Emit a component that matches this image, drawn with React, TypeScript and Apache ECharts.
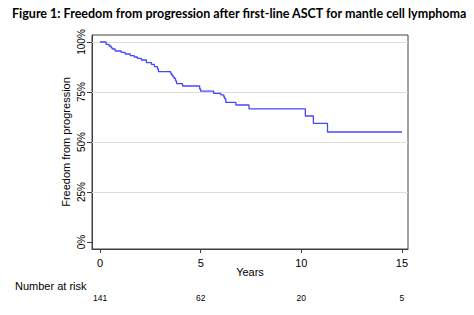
import React, { useEffect, useRef } from "react";
import * as echarts from "echarts";

const titleText = "Figure 1: Freedom from progression after first-line ASCT for mantle cell lymphoma";
const yAxisTitle = "Freedom from progression";
const xAxisTitle = "Years";
const riskTitle = "Number at risk";

// Kaplan-Meier steps: [years, survival %] — value after the event at that time
const kmTimes = [0, 0.3, 0.45, 0.55, 0.6, 0.75, 1.05, 1.25, 1.5, 1.7, 1.85, 2.05, 2.3, 2.55, 2.7, 2.85, 2.9, 3.5, 3.55, 3.62, 3.68, 3.75, 3.8, 4.1, 4.95, 5.0, 5.65, 6.0, 6.15, 6.2, 6.25, 6.75, 7.4, 10.2, 10.6, 11.3, 15];
const kmSurvival = [100, 98.8, 98.0, 97.2, 96.5, 95.5, 94.8, 94.0, 93.2, 92.5, 91.8, 91.0, 89.7, 88.8, 87.7, 86.5, 85.2, 84.4, 83.5, 82.6, 81.8, 80.6, 79.2, 78.0, 76.5, 75.4, 74.3, 73.6, 72.5, 71.5, 69.8, 68.5, 66.6, 63.0, 59.3, 55.0, 55.0];

const xTicks = [0, 5, 10, 15];
const yTicks = [0, 25, 50, 75, 100];
const riskTimes = [0, 5, 10, 15];
const riskCounts = [141, 62, 20, 5];

export default function App() {
  const ref = useRef<HTMLDivElement>(null);
  useEffect(() => {
    document.body.style.margin = "0";
    if (!ref.current) return;
    const chart = echarts.init(ref.current, null, { renderer: "svg" });
    const font = "Liberation Sans, Arial, sans-serif";
    chart.setOption({
      animation: false,
      backgroundColor: "#ffffff",
      title: {
        text: titleText,
        left: 7,
        top: 2,
        textStyle: { fontFamily: "Lato", fontWeight: "bold", fontSize: 12.5, color: "#000" },
      },
      grid: {
        left: 92,
        right: 66,
        top: 35,
        bottom: 66,
        show: true,
        borderColor: "#404040",
        borderWidth: 1,
      },
      xAxis: [
        {
          type: "value",
          min: -0.4,
          max: 15.3,
          name: xAxisTitle,
          nameLocation: "middle",
          nameGap: 17,
          nameMoveOverlap: false,
          nameTextStyle: { fontFamily: font, fontSize: 11, color: "#000" },
          axisLine: { show: true, onZero: false, lineStyle: { color: "#404040", width: 1 } },
          axisTick: { show: true, length: 4, customValues: xTicks, lineStyle: { color: "#404040" } },
          axisLabel: { customValues: xTicks, margin: 8, fontFamily: font, fontSize: 11, color: "#000" },
          splitLine: { show: false },
        },
        {
          type: "value",
          min: -0.4,
          max: 15.3,
          position: "bottom",
          offset: 40,
          axisLine: { show: false, onZero: false },
          axisTick: { show: false },
          splitLine: { show: false },
          axisLabel: {
            customValues: riskTimes,
            margin: 4,
            fontFamily: font,
            fontSize: 8.5,
            color: "#000",
            formatter: (v: number) => {
              const i = riskTimes.indexOf(v);
              return i >= 0 ? String(riskCounts[i]) : "";
            },
          },
        },
      ],
      yAxis: {
        type: "value",
        min: -3.5,
        max: 103.5,
        name: yAxisTitle,
        nameLocation: "middle",
        nameGap: 21,
        nameMoveOverlap: false,
        nameTextStyle: { fontFamily: font, fontSize: 11, color: "#000" },
        axisLine: { show: true, onZero: false, lineStyle: { color: "#404040", width: 1 } },
        axisTick: { show: true, length: 5, customValues: yTicks, lineStyle: { color: "#404040" } },
        axisLabel: {
          customValues: yTicks,
          rotate: 90,
          margin: 6,
          fontFamily: font,
          fontSize: 10,
          color: "#000",
          formatter: (v: number) => v + "%",
        },
        splitLine: { show: false },
      },
      graphic: [
        {
          type: "text",
          left: 15,
          top: 280,
          style: { text: riskTitle, fontFamily: font, fontSize: 11, fill: "#000" },
        },
      ],
      series: [
        {
          type: "line",
          step: "end",
          xAxisIndex: 0,
          data: kmTimes.map((t, i) => [t, kmSurvival[i]]),
          showSymbol: false,
          symbol: "none",
          lineStyle: { color: "#4646ff", width: 1.3 },
          markLine: {
            silent: true,
            symbol: "none",
            label: { show: false },
            lineStyle: { color: "#dcdcdc", width: 1, type: "solid" },
            data: yTicks.filter((v) => v > 0).map((v) => ({ yAxis: v })),
            z: 1,
          },
          z: 3,
        },
      ],
    });
    return () => chart.dispose();
  }, []);
  return <div ref={ref} style={{ width: 474, height: 315 }} />;
}
